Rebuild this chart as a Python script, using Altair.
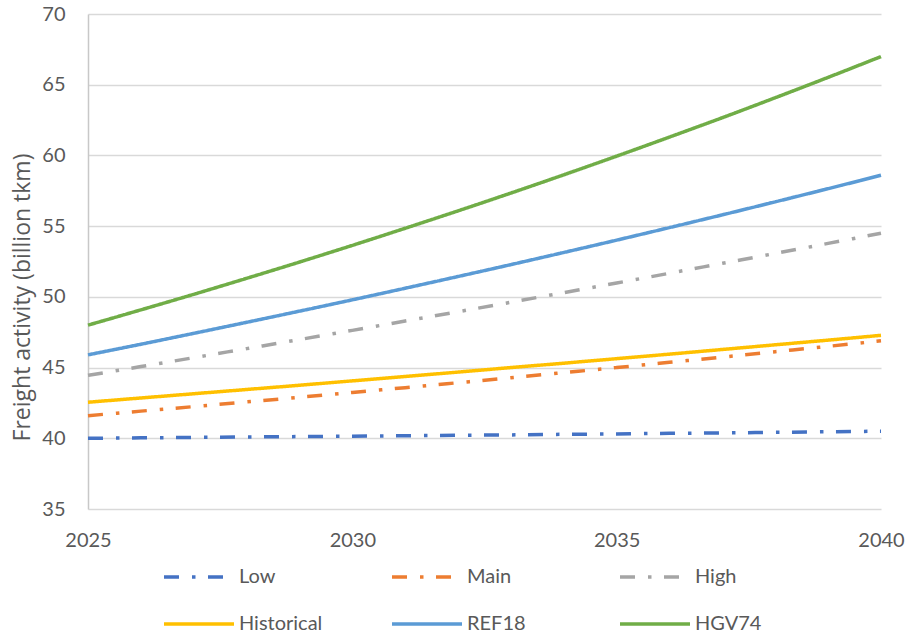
import altair as alt
import pandas as pd

# Projected freight activity by scenario, billion tonne-km
years = list(range(2025, 2041))
low = [40.00, 40.03, 40.06, 40.09, 40.12, 40.15, 40.18, 40.21, 40.24, 40.28, 40.31, 40.35, 40.38, 40.42, 40.46, 40.50]
main = [41.60, 41.92, 42.24, 42.57, 42.90, 43.24, 43.58, 43.93, 44.28, 44.64, 45.00, 45.37, 45.74, 46.12, 46.50, 46.89]
high = [44.45, 45.07, 45.70, 46.34, 46.98, 47.63, 48.29, 48.95, 49.62, 50.30, 50.98, 51.67, 52.37, 53.07, 53.78, 54.50]
historical = [42.55, 42.85, 43.15, 43.45, 43.75, 44.06, 44.37, 44.68, 45.00, 45.31, 45.63, 45.95, 46.28, 46.61, 46.94, 47.28]
ref18 = [45.90, 46.65, 47.42, 48.20, 48.99, 49.79, 50.61, 51.44, 52.28, 53.14, 54.01, 54.90, 55.80, 56.72, 57.65, 58.60]
hgv74 = [48.00, 49.08, 50.18, 51.31, 52.46, 53.64, 54.85, 56.08, 57.34, 58.63, 59.95, 61.30, 62.67, 64.08, 65.52, 66.99]

series_names = ["Low", "Main", "High", "Historical", "REF18", "HGV74"]
series_values = [low, main, high, historical, ref18, hgv74]
series_colors = ["#4472C4", "#ED7D31", "#A5A5A5", "#FFC000", "#5B9BD5", "#70AD47"]
dash_dot = [15, 13, 3.5, 12.5]
series_dashes = [dash_dot, dash_dot, dash_dot, [1, 0], [1, 0], [1, 0]]

x_ticks = [2025, 2030, 2035, 2040]
y_ticks = [35, 40, 45, 50, 55, 60, 65, 70]

rows = []
for name, vals in zip(series_names, series_values):
    for yr, v in zip(years, vals):
        rows.append({"year": yr, "value": v, "series": name})
df = pd.DataFrame(rows)

FONT = "Lato"
TEXT = "#595959"

legend = alt.Legend(
    title=None,
    orient="none",
    legendX=74,
    legendY=549,
    direction="horizontal",
    columns=3,
    gridAlign="all",
    columnPadding=67,
    rowPadding=19,
    clipHeight=28,
    symbolType="stroke",
    symbolSize=4900,
    symbolStrokeWidth=3.5,
    symbolOffset=0,
    labelOffset=3,
    labelFont=FONT,
    labelFontSize=20,
    labelColor=TEXT,
    padding=0,
)

chart = (
    alt.Chart(df)
    .mark_line(strokeWidth=3.5, strokeCap="butt", strokeJoin="round", interpolate="monotone")
    .encode(
        x=alt.X(
            "year:Q",
            scale=alt.Scale(domain=[2025, 2040], nice=False, zero=False),
            axis=alt.Axis(
                values=x_ticks,
                format="d",
                title=None,
                grid=False,
                ticks=False,
                tickSize=0,
                domain=False,
                labelPadding=21,
                labelFont=FONT,
                labelFontSize=20,
                labelColor=TEXT,
                labelFlush=False,
            ),
        ),
        y=alt.Y(
            "value:Q",
            scale=alt.Scale(domain=[35, 70], nice=False, zero=False),
            axis=alt.Axis(
                values=y_ticks,
                title="Freight activity (billion tkm)",
                titleFont="Open Sans",
                titleFontSize=23,
                titleFontWeight="normal",
                titleColor=TEXT,
                titleAngle=-90,
                titleX=-59,
                titleY=283,
                titleAlign="center",
                titleBaseline="alphabetic",
                grid=True,
                gridColor="#D9D9D9",
                gridWidth=1.5,
                ticks=False,
                tickSize=0,
                domain=True,
                domainColor="#C8C8C8",
                domainWidth=1.5,
                labelPadding=23,
                labelFont=FONT,
                labelFontSize=20,
                labelColor=TEXT,
                labelFlush=False,
            ),
        ),
        color=alt.Color(
            "series:N",
            scale=alt.Scale(domain=series_names, range=series_colors),
            sort=series_names,
            legend=legend,
        ),
        strokeDash=alt.StrokeDash(
            "series:N",
            scale=alt.Scale(domain=series_names, range=series_dashes),
            sort=series_names,
            legend=legend,
        ),
        order=alt.Order("year:Q"),
    )
    .properties(
        width=793,
        height=495,
        autosize=alt.AutoSizeParams(type="none"),
        padding={"left": 88, "top": 14, "right": 27, "bottom": 125},
        background="white",
    )
    .configure_view(stroke=None)
)

chart.save("out.html", embed_options={"renderer": "svg", "actions": False})
